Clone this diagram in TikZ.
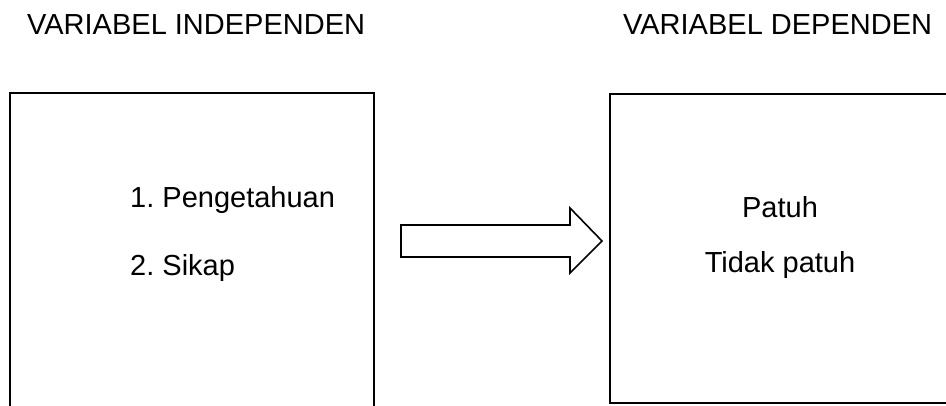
\documentclass[tikz,border=0pt]{standalone}
\usepackage{fontspec}
\setmainfont{Liberation Sans}
\frenchspacing
\begin{document}
\begin{tikzpicture}[x=1pt,y=1pt,
  lbl/.style={anchor=base west,inner sep=0pt,font=\fontsize{29}{34}\selectfont},
  clbl/.style={anchor=base,inner sep=0pt,font=\fontsize{29}{34}\selectfont},
  frame/.style={draw=black,line width=1.6pt},
  bigarrow/.style={draw=black,line width=1.6pt,fill=white,line join=miter}]
\useasboundingbox (0,0) rectangle (946,405);
\clip (0,0) rectangle (946,405);
% headings
\node[lbl] (hind) at (27,370) {VARIABEL INDEPENDEN};
\node[lbl] (hdep) at (623,370) {VARIABEL DEPENDEN};
% left box (open at bottom, cut by page)
\draw[frame] (10,-10) -- (10,312) -- (374,312) -- (374,-10);
\node[lbl] (p1) at (130,197) {1.\ Pengetahuan};
\node[lbl] (p2) at (130,129) {2.\ Sikap};
% right box (cut on right)
\draw[frame] (610,2) rectangle (960,311);
\node[clbl] (r1) at (780,187) {Patuh};
\node[clbl] (r2) at (780,132) {Tidak patuh};
% block arrow
\draw[bigarrow] (401,180) -- (570,180) -- (570,197) -- (602,164) -- (570,132) -- (570,148) -- (401,148) -- cycle;
\end{tikzpicture}
\end{document}
